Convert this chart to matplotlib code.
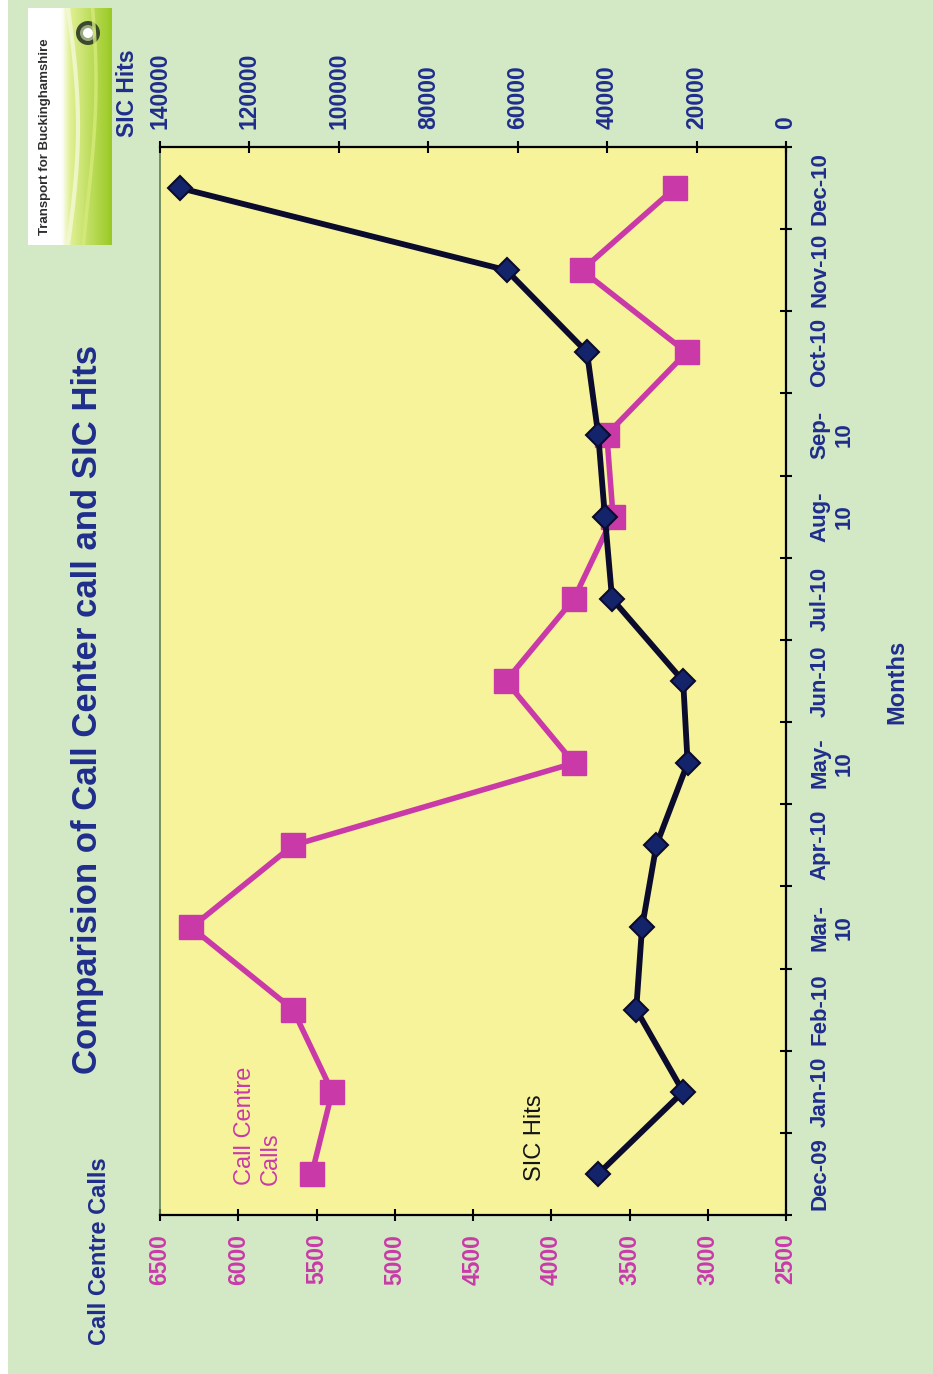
import numpy as np
import matplotlib
matplotlib.use("Agg")
import matplotlib.pyplot as plt
from matplotlib.patches import Rectangle, Circle

# ---- data -------------------------------------------------------------
months = ["Dec-09", "Jan-10", "Feb-10", "Mar-\n10", "Apr-10", "May-\n10",
          "Jun-10", "Jul-10", "Aug-\n10", "Sep-\n10", "Oct-10", "Nov-10",
          "Dec-10"]
call_centre_calls = [5530, 5400, 5650, 6300, 5650, 3855, 4290, 3855,
                     3605, 3645, 3135, 3805, 3210]
sic_hits = [42000, 23000, 33500, 32200, 29000, 22000, 23000, 38900,
            40500, 42000, 44500, 62500, 135500]
calls_ticks = list(range(2500, 6501, 500))
hits_ticks = list(range(0, 140001, 20000))

# ---- style ------------------------------------------------------------
FONT = "Liberation Sans"
BG = "#d3e8c5"
PLOT_BG = "#f7f39b"
MAGENTA = "#c93aa8"
NAVY_TXT = "#1f2d8c"
NAVY_LINE = "#0b0b2e"
NAVY_MARK = "#14246a"

W, H = 933, 1374
fig = plt.figure(figsize=(W / 100, H / 100), dpi=100, facecolor=BG)


def fx(px):
    return px / W


def fy(py):
    return 1 - py / H


# white strip on the left edge of the slide
fig.patches.append(Rectangle((0, 0), fx(8), 1, transform=fig.transFigure,
                             facecolor="white", edgecolor="none", zorder=0))

# chart drawn turned on its side: value axes run horizontally, months vertically
left, right, top, bottom = 160, 786, 147, 1215
ax = fig.add_axes([fx(left), fy(bottom), fx(right - left), (bottom - top) / H])
ax.set_facecolor(PLOT_BG)

ypos = np.arange(len(months))

ax.plot(call_centre_calls, ypos, color=MAGENTA, lw=4.0, marker="s", ms=17,
        mfc=MAGENTA, mec=MAGENTA, zorder=3)
ax.set_xlim(6500, 2500)
ax.set_ylim(-0.5, len(months) - 0.5)

ax2 = ax.twiny()
ax2.plot(sic_hits, ypos, color=NAVY_LINE, lw=4.2, marker="D", ms=12.5,
         mfc=NAVY_MARK, mec=NAVY_LINE, mew=1.5, zorder=4)
ax2.set_xlim(140000, 0)
ax2.set_ylim(-0.5, len(months) - 0.5)

# bottom axis: call centre calls
ax.xaxis.tick_bottom()
ax.set_xticks(calls_ticks)
ax.set_xticklabels([str(v) for v in calls_ticks], rotation=90,
                   fontsize=16.5, fontweight="bold", family=FONT, color=MAGENTA)
ax.tick_params(axis="x", direction="inout", length=9, width=1.5, pad=9)

# top axis: SIC hits
ax2.xaxis.tick_top()
ax2.set_xticks(hits_ticks)
ax2.set_xticklabels([str(v) for v in hits_ticks], rotation=90,
                    fontsize=16.5, fontweight="bold", family=FONT, color=NAVY_TXT)
ax2.tick_params(axis="x", direction="inout", length=9, width=1.5, pad=8.5)

# right axis: months (ticks at category boundaries, labels at centres)
ax.yaxis.tick_right()
ax.set_yticks(np.arange(-0.5, len(months), 1.0))
ax.set_yticklabels([])
ax.set_yticks(ypos, minor=True)
ax.set_yticklabels(months, minor=True, rotation=90, fontsize=16,
                   fontweight="bold", family=FONT, color=NAVY_TXT,
                   va="center", ha="left", multialignment="center")
ax.tick_params(axis="y", which="major", direction="inout", length=9,
               width=1.5, right=True, left=False)
ax.tick_params(axis="y", which="minor", length=0, pad=17, right=True,
               left=False)

for name, sp in ax.spines.items():
    sp.set_color("black")
    sp.set_linewidth(1.6)
ax.spines["left"].set_color("#5f7f55")
ax.spines["left"].set_linewidth(1.2)
for sp in ax2.spines.values():
    sp.set_visible(False)

# ---- titles and labels ------------------------------------------------
fig.text(fx(88), fy(710), "Comparision of Call Center call and SIC Hits",
         rotation=90, ha="center", va="center", fontsize=25,
         fontweight="bold", family=FONT, color=NAVY_TXT)
fig.text(fx(100), fy(1345), "Call Centre Calls", rotation=90, ha="center",
         va="bottom", fontsize=17, fontweight="bold", family=FONT,
         color=NAVY_TXT)
fig.text(fx(128), fy(137), "SIC Hits", rotation=90, ha="center",
         va="bottom", fontsize=16.5, fontweight="bold", family=FONT,
         color=NAVY_TXT)
fig.text(fx(897), fy(682), "Months", rotation=90, ha="center",
         va="center", fontsize=17, fontweight="bold", family=FONT,
         color=NAVY_TXT)

# series labels inside the plot area
fig.text(fx(258), fy(1185), "Call Centre\nCalls", rotation=90, ha="center",
         va="bottom", multialignment="left", fontsize=17, family=FONT,
         color=MAGENTA, linespacing=1.25)
fig.text(fx(535), fy(1181), "SIC Hits", rotation=90, ha="center",
         va="bottom", fontsize=17, family=FONT, color="#141414")

# ---- logo block (pixel-unit axes so the emblem stays round) -------------
logo_l, logo_r, logo_t, logo_b = 28, 112, 8, 245
lw_px, lh_px = logo_r - logo_l, logo_b - logo_t
n = 200
cols = np.zeros((1, n, 3))
white = np.array([1.0, 1.0, 1.0])
lime = np.array([0.60, 0.79, 0.14])
light = np.array([0.88, 0.94, 0.58])
for i, g in enumerate(np.linspace(0, 1, n)):
    if g < 0.40:
        cols[0, i] = white
    elif g < 0.50:
        t = (g - 0.40) / 0.10
        cols[0, i] = white * (1 - t) + light * t
    else:
        t = (g - 0.50) / 0.50
        cols[0, i] = light * (1 - t) + lime * t
lax = fig.add_axes([fx(logo_l), fy(logo_b), fx(lw_px), lh_px / H])
lax.imshow(cols, aspect="auto", extent=[0, lw_px, lh_px, 0])
lax.set_xlim(0, lw_px)
lax.set_ylim(lh_px, 0)
lax.axis("off")
# a pale swoosh across the green band
ys = np.linspace(0, lh_px, 100)
lax.plot(40 + 10 * np.sin(ys / lh_px * np.pi), ys, color="#f4f9d8", lw=3,
         alpha=0.8)
lax.plot(60 + 8 * np.sin(ys / lh_px * np.pi + 0.6), ys, color="#d6ea7a",
         lw=2.5, alpha=0.8)
lax.text(17, lh_px / 2 + 10, "Transport for Buckinghamshire", rotation=90,
         ha="center", va="center", fontsize=9.5, fontweight="bold",
         family=FONT, color="#2e2e2e")
lax.add_patch(Circle((60, 25), 12, facecolor="#3b4a2c", edgecolor="none"))
lax.add_patch(Circle((60, 25), 8, facecolor="#9aa884", edgecolor="none"))
lax.add_patch(Circle((60, 25), 5, facecolor="white", edgecolor="none"))

fig.savefig("out.png", dpi=100, facecolor=BG)
